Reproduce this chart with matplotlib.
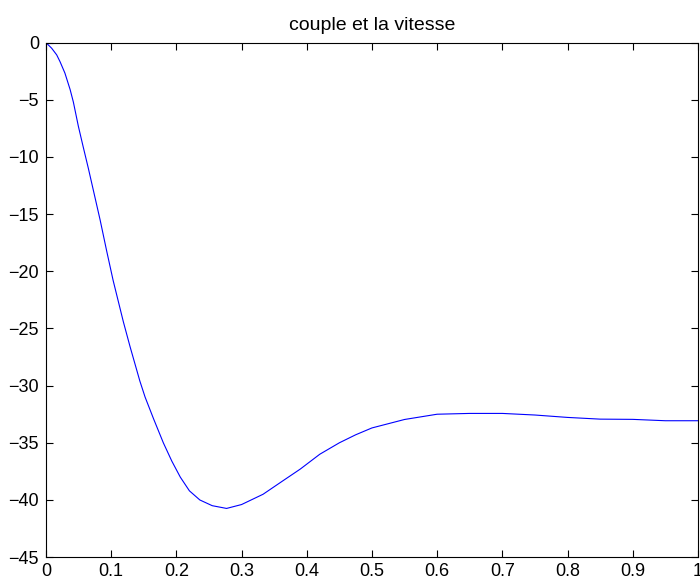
import matplotlib
matplotlib.use('Agg')
import matplotlib.pyplot as plt

plt.rcParams['font.family'] = ['Liberation Sans', 'DejaVu Sans']

# values
t = [0, 0.0087, 0.0164, 0.0215, 0.029, 0.037, 0.042, 0.0496, 0.057, 0.065,
     0.075, 0.083, 0.093, 0.103, 0.1186, 0.129, 0.144, 0.152, 0.165, 0.18,
     0.193, 0.206, 0.22, 0.236, 0.255, 0.277, 0.3, 0.333, 0.364, 0.39, 0.42,
     0.45, 0.475, 0.5, 0.55, 0.6, 0.65, 0.7, 0.75, 0.8, 0.85, 0.9, 0.95, 1.0]
couple = [0, -0.49, -1.07, -1.66, -2.66, -4.1, -5.2, -7.3, -9.1, -11.0,
          -13.5, -15.5, -18.2, -20.8, -24.4, -26.6, -29.6, -31.0, -32.9, -35.0,
          -36.6, -38.0, -39.2, -40.0, -40.5, -40.74, -40.4, -39.5, -38.3, -37.3, -36.0,
          -35.0, -34.3, -33.7, -32.96, -32.5, -32.43, -32.43, -32.57, -32.78, -32.93, -32.95, -33.07, -33.07]

x_ticks = [0, 0.1, 0.2, 0.3, 0.4, 0.5, 0.6, 0.7, 0.8, 0.9, 1]
x_labels = ['0', '0.1', '0.2', '0.3', '0.4', '0.5', '0.6', '0.7', '0.8', '0.9', '1']
y_ticks = [0, -5, -10, -15, -20, -25, -30, -35, -40, -45]

fig = plt.figure(figsize=(7, 5.84), dpi=100)
ax = fig.add_axes([0.0657, 0.046, 0.9313, 0.881])
ax.plot(t, couple, color='#0000ff', linewidth=0.8)

ax.set_xlim(0, 1)
ax.set_ylim(-45, 0)
ax.set_xticks(x_ticks)
ax.set_xticklabels(x_labels)
ax.set_yticks(y_ticks)
ax.tick_params(direction='in', top=True, right=True, length=5, width=0.8,
               labelsize=13)
ax.tick_params(axis='x', pad=4)
ax.tick_params(axis='y', pad=5)
for s in ax.spines.values():
    s.set_linewidth(0.8)
ax.set_title('couple et la vitesse', fontsize=14, pad=9)

fig.savefig('out.png', dpi=100)
